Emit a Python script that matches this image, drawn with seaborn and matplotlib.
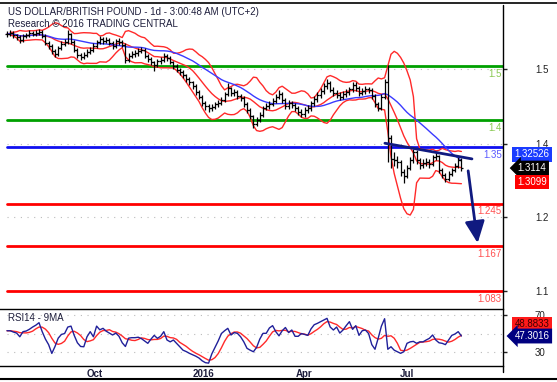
import numpy as np
import pandas as pd
import matplotlib
matplotlib.use("Agg")
import matplotlib.pyplot as plt
from matplotlib.lines import Line2D
import seaborn as sns

# GBP/USD, one bar per two trading days
start_date = "2015-07-27"
close = [1.559, 1.561, 1.557, 1.554, 1.548, 1.556, 1.557, 1.561, 1.559, 1.561,
         1.563, 1.556, 1.543, 1.537, 1.528, 1.522, 1.533, 1.541, 1.544, 1.559,
         1.544, 1.530, 1.520, 1.517, 1.520, 1.526, 1.530, 1.537, 1.544, 1.550,
         1.546, 1.548, 1.543, 1.537, 1.546, 1.544, 1.539, 1.511, 1.519, 1.522,
         1.524, 1.528, 1.530, 1.519, 1.513, 1.507, 1.502, 1.509, 1.511, 1.519,
         1.515, 1.507, 1.500, 1.493, 1.489, 1.483, 1.476, 1.470, 1.463, 1.452,
         1.443, 1.431, 1.426, 1.422, 1.424, 1.430, 1.431, 1.437, 1.448, 1.459,
         1.450, 1.452, 1.444, 1.441, 1.430, 1.419, 1.407, 1.393, 1.400, 1.409,
         1.422, 1.426, 1.430, 1.435, 1.443, 1.448, 1.437, 1.426, 1.431, 1.428,
         1.422, 1.415, 1.411, 1.419, 1.422, 1.431, 1.439, 1.446, 1.454, 1.463,
         1.469, 1.456, 1.450, 1.446, 1.443, 1.448, 1.452, 1.457, 1.465, 1.459,
         1.450, 1.454, 1.457, 1.456, 1.444, 1.430, 1.422, 1.443, 1.470, 1.366,
         1.327, 1.326, 1.322, 1.304, 1.296, 1.311, 1.326, 1.341, 1.326, 1.317,
         1.320, 1.322, 1.319, 1.331, 1.333, 1.307, 1.298, 1.291, 1.300, 1.307,
         1.315, 1.326, 1.311]
high = [1.564, 1.566, 1.565, 1.560, 1.557, 1.560, 1.562, 1.566, 1.565, 1.566,
        1.569, 1.566, 1.559, 1.547, 1.541, 1.532, 1.537, 1.546, 1.550, 1.566,
        1.562, 1.548, 1.534, 1.524, 1.526, 1.531, 1.535, 1.542, 1.549, 1.556,
        1.553, 1.554, 1.551, 1.546, 1.550, 1.551, 1.548, 1.542, 1.524, 1.527,
        1.530, 1.533, 1.536, 1.533, 1.523, 1.516, 1.510, 1.513, 1.516, 1.524,
        1.522, 1.518, 1.510, 1.503, 1.497, 1.492, 1.486, 1.480, 1.473, 1.466,
        1.456, 1.447, 1.435, 1.430, 1.429, 1.434, 1.437, 1.442, 1.452, 1.468,
        1.462, 1.458, 1.455, 1.449, 1.444, 1.433, 1.422, 1.410, 1.406, 1.414,
        1.426, 1.432, 1.436, 1.441, 1.448, 1.455, 1.451, 1.441, 1.437, 1.436,
        1.432, 1.426, 1.420, 1.424, 1.428, 1.435, 1.444, 1.452, 1.459, 1.468,
        1.476, 1.472, 1.461, 1.455, 1.451, 1.453, 1.458, 1.462, 1.471, 1.470,
        1.463, 1.460, 1.463, 1.462, 1.459, 1.448, 1.434, 1.448, 1.476, 1.502,
        1.372, 1.340, 1.333, 1.326, 1.310, 1.317, 1.331, 1.347, 1.344, 1.330,
        1.327, 1.329, 1.327, 1.336, 1.340, 1.336, 1.311, 1.302, 1.305, 1.312,
        1.320, 1.331, 1.329]
low = [1.553, 1.555, 1.551, 1.549, 1.543, 1.545, 1.552, 1.554, 1.555, 1.556,
       1.557, 1.551, 1.539, 1.531, 1.523, 1.517, 1.519, 1.529, 1.537, 1.541,
       1.540, 1.526, 1.515, 1.511, 1.513, 1.516, 1.522, 1.526, 1.533, 1.540,
       1.541, 1.542, 1.538, 1.532, 1.534, 1.539, 1.535, 1.506, 1.507, 1.514,
       1.517, 1.519, 1.524, 1.514, 1.508, 1.501, 1.490, 1.498, 1.504, 1.507,
       1.510, 1.503, 1.495, 1.488, 1.484, 1.478, 1.471, 1.465, 1.458, 1.447,
       1.438, 1.426, 1.419, 1.415, 1.416, 1.420, 1.425, 1.427, 1.433, 1.445,
       1.445, 1.445, 1.439, 1.436, 1.425, 1.413, 1.401, 1.385, 1.388, 1.396,
       1.405, 1.418, 1.421, 1.426, 1.431, 1.438, 1.432, 1.421, 1.420, 1.422,
       1.416, 1.409, 1.405, 1.406, 1.413, 1.417, 1.426, 1.434, 1.441, 1.449,
       1.458, 1.451, 1.445, 1.441, 1.437, 1.438, 1.443, 1.447, 1.452, 1.454,
       1.445, 1.446, 1.449, 1.450, 1.438, 1.424, 1.416, 1.418, 1.439, 1.322,
       1.311, 1.315, 1.312, 1.296, 1.284, 1.292, 1.307, 1.321, 1.319, 1.310,
       1.312, 1.314, 1.312, 1.314, 1.326, 1.302, 1.292, 1.286, 1.287, 1.296,
       1.303, 1.311, 1.306]

# RSI, same bars
rsi_vals = [53, 53, 51.6, 50.5, 46.5, 52, 52.7, 54.6, 57, 59,
            61.7, 52, 44, 38, 28.5, 36, 45, 49, 50, 57,
            58, 48, 40, 36, 35.7, 46.5, 52, 46.5, 58, 54,
            55.6, 52.5, 50.5, 48.4, 50.5, 47, 40, 36, 45, 45.5,
            45.5, 46, 44.5, 42, 39.4, 44, 48, 44.8, 47, 52,
            43, 41, 43, 39.4, 35.7, 32, 30.5, 28.6, 27, 25.5,
            23.5, 20.5, 18.5, 18, 28, 35, 42, 50, 53, 55.6,
            48.4, 51, 50.2, 46.5, 41, 34, 32, 30.3, 35, 44,
            50.2, 50.2, 56, 58.5, 52, 47.5, 53, 56.5, 51, 53.8,
            47, 47, 50, 49, 48, 55, 59.5, 61, 62.8, 64.6,
            66.4, 57, 53.8, 57, 50.5, 53.8, 58.5, 62.8, 54.5, 58.5,
            48, 53, 53.8, 50, 38, 33, 45, 58, 66, 33,
            35.7, 32, 30.3, 28.6, 30.3, 39.4, 41, 41.5, 39.4, 41,
            41, 43, 44.8, 48.4, 43, 40, 39.4, 38, 43, 48,
            49.5, 52, 47.3]

# support / resistance levels
levels = [1.5, 1.4, 1.35, 1.245, 1.167, 1.083]
level_labels = ["1.5", "1.4", "1.35", "1.245", "1.167", "1.083"]
level_colors = ["#00a000", "#00a000", "#1010f0", "#ff0000", "#ff0000", "#ff0000"]
label_colors = ["#88c850", "#88c850", "#5a5aff", "#ff5050", "#ff5050", "#ff5050"]

# right axis tick labels as printed on the chart
price_ticks = [1.4944, 1.3556, 1.2204, 1.0833]
price_tick_labels = ["1.5", "1.4", "1.2", "1.1"]

# readouts
ma_label, close_label, bb_label = "1.32526", "1.3114", "1.3099"
rsi_label, rsi_ma_label = 47.3016, 48.8833

# trend line and projected move
trend_x = [118.1, 145.3]
trend_y = [1.357, 1.328]
target = 1.167

month_ticks = ["2015-10-01", "2016-01-01", "2016-04-01", "2016-07-01"]
month_labels = ["Oct", "2016", "Apr", "Jul"]

sns.set_style("white")
plt.rcParams["font.family"] = ["Liberation Sans", "DejaVu Sans"]

n = len(close)
idx = np.arange(n)
dates = pd.date_range(start_date, periods=n, freq="2B")
s = pd.Series(close)
opens = np.r_[close[0], close[:-1]]

mid = s.rolling(10, min_periods=1).mean()
sd = s.rolling(10, min_periods=2).std(ddof=0)
upper = mid + 2.2 * sd
lower = mid - 2.2 * sd
ma = s.rolling(25, min_periods=1).mean()

rsi = pd.Series(rsi_vals)
rsi_ma = rsi.rolling(5, min_periods=1).mean()

W, H = 557, 382


def rect(l, t, r, b):
    return [l / W, 1 - b / H, (r - l) / W, (b - t) / H]


fig = plt.figure(figsize=(W / 100, H / 100), dpi=100)
ax = fig.add_axes(rect(0, 3, 503, 302))
ax2 = fig.add_axes(rect(0, 309, 503, 366))

xmin, xmax = -2.19, 155
x0 = 2.19 / (xmax - xmin)

# price panel
ax.set_xlim(xmin, xmax)
ax.set_ylim(1.063, 1.6167)
for t in price_ticks:
    ax.axhline(t, color="#bbbbbb", lw=0.8, ls=(0, (1, 5)), xmin=x0, zorder=0)
for lv, lc in zip(levels, level_colors):
    ax.axhline(lv, color=lc, lw=2, xmin=x0, zorder=1)
for lv, lab, tc in zip(levels, level_labels, label_colors):
    ax.annotate(lab, xy=(1, lv), xycoords=("axes fraction", "data"),
                xytext=(-1, -2), textcoords="offset points", ha="right", va="top",
                fontsize=7, color=tc, annotation_clip=False, clip_on=True)

sns.lineplot(x=idx, y=upper, ax=ax, color="#ff2a2a", lw=1)
sns.lineplot(x=idx, y=lower, ax=ax, color="#ff2a2a", lw=1)
sns.lineplot(x=idx, y=mid, ax=ax, color="#ff2a2a", lw=1)
sns.lineplot(x=idx, y=ma, ax=ax, color="#3a3aff", lw=1)

ax.vlines(idx, low, high, color="black", lw=0.9, zorder=3)
ax.hlines(opens, idx - 0.6, idx, color="black", lw=0.9, zorder=3)
ax.hlines(close, idx, idx + 0.6, color="black", lw=0.9, zorder=3)

navy = "#101a80"
ax.plot(trend_x, trend_y, color=navy, lw=2, zorder=4)
ax.annotate("", xy=(n + 4.2, target), xytext=(n + 1.0, close[-1]),
            arrowprops=dict(arrowstyle="-|>,head_length=1.1,head_width=0.5",
                            color=navy, lw=2, mutation_scale=12), zorder=4)

ax.yaxis.tick_right()
ax.set_yticks(price_ticks)
ax.set_yticklabels(price_tick_labels)
ax.tick_params(axis="y", direction="out", length=3, pad=20, labelsize=7,
               colors="#222222", width=1)
ax.tick_params(axis="x", bottom=False, labelbottom=False)
for sp in ax.spines.values():
    sp.set_visible(False)
ax.set_ylabel("")

box = dict(boxstyle="square,pad=0.25", ec="none")
bx = 21
ax.annotate(ma_label, xy=(1, close[-1]), xycoords=("axes fraction", "data"),
            xytext=(bx, 10), textcoords="offset points", ha="center", va="center",
            fontsize=7, color="white", bbox=dict(box, fc="#1a3cff"))
ax.annotate(close_label, xy=(1, close[-1]), xycoords=("axes fraction", "data"),
            xytext=(bx, 0), textcoords="offset points", ha="center", va="center",
            fontsize=7, color="white",
            bbox=dict(boxstyle="larrow,pad=0.25", fc="black", ec="none"))
ax.annotate(bb_label, xy=(1, close[-1]), xycoords=("axes fraction", "data"),
            xytext=(bx, -10), textcoords="offset points", ha="center", va="center",
            fontsize=7, color="white", bbox=dict(box, fc="#ff0000"))

fig.text(8 / W, 1 - 12 / H, "US DOLLAR/BRITISH POUND - 1d - 3:00:48 AM (UTC+2)",
         fontsize=7, color="#1e1e3c", va="center")
fig.text(8 / W, 1 - 24 / H, "Research \u00a9 2016 TRADING CENTRAL",
         fontsize=7, color="#1e1e3c", va="center")

# RSI panel
ax2.set_xlim(xmin, xmax)
ax2.set_ylim(14.9, 76.5)
for g in [70, 50, 30]:
    ax2.axhline(g, color="#bbbbbb", lw=0.8, ls=(0, (1, 5)), xmin=x0, zorder=0)
sns.lineplot(x=idx, y=rsi_ma, ax=ax2, color="#ff2a2a", lw=1)
sns.lineplot(x=idx, y=rsi, ax=ax2, color="#20209a", lw=1)
ax2.text(8 / 503, 0.84, "RSI14 - 9MA", transform=ax2.transAxes, fontsize=7,
         color="#1e1e3c", va="center")

ax2.yaxis.tick_right()
ax2.set_yticks([70, 30])
ax2.set_yticklabels(["70", "30"])
ax2.tick_params(axis="y", direction="out", length=3, pad=20, labelsize=7,
                colors="#222222", width=1)
ax2.set_ylabel("")

tick_pos = np.interp(pd.to_datetime(month_ticks).astype("int64"),
                     dates.astype("int64"), idx)
ax2.set_xticks(tick_pos)
ax2.set_xticklabels([])
ax2.tick_params(axis="x", direction="out", length=5, width=1, colors="black")
for p, lab in zip(tick_pos, month_labels):
    ax2.annotate(lab, xy=(p, 0), xycoords=("data", "axes fraction"),
                 xytext=(2, -2), textcoords="offset points", ha="left", va="top",
                 fontsize=7, fontweight="bold", color="#1e1e3c",
                 annotation_clip=False)
ax2.spines["left"].set_visible(False)
ax2.spines["right"].set_visible(False)
for k in ["top", "bottom"]:
    ax2.spines[k].set_color("black")
    ax2.spines[k].set_linewidth(1)

ax2.annotate(f"{rsi_ma_label:.4f}", xy=(1, rsi_label), xycoords=("axes fraction", "data"),
             xytext=(bx, 8.6), textcoords="offset points", ha="center", va="center",
             fontsize=7, color="#400000", bbox=dict(box, fc="#ff1a1a"))
ax2.annotate(f"{rsi_label:.4f}", xy=(1, rsi_label), xycoords=("axes fraction", "data"),
             xytext=(bx, 0), textcoords="offset points", ha="center", va="center",
             fontsize=7, color="white",
             bbox=dict(boxstyle="larrow,pad=0.25", fc="#000080", ec="none"))

# frame lines
fig.add_artist(Line2D([0, 1], [1 - 2.5 / H, 1 - 2.5 / H], color="black", lw=1.2))
fig.add_artist(Line2D([0, 1], [1 - 379 / H, 1 - 379 / H], color="black", lw=1.5))
fig.add_artist(Line2D([503 / W, 503 / W], [1 - 5 / H, 1 - 372 / H], color="black", lw=1))

fig.savefig("out.png", dpi=100)
